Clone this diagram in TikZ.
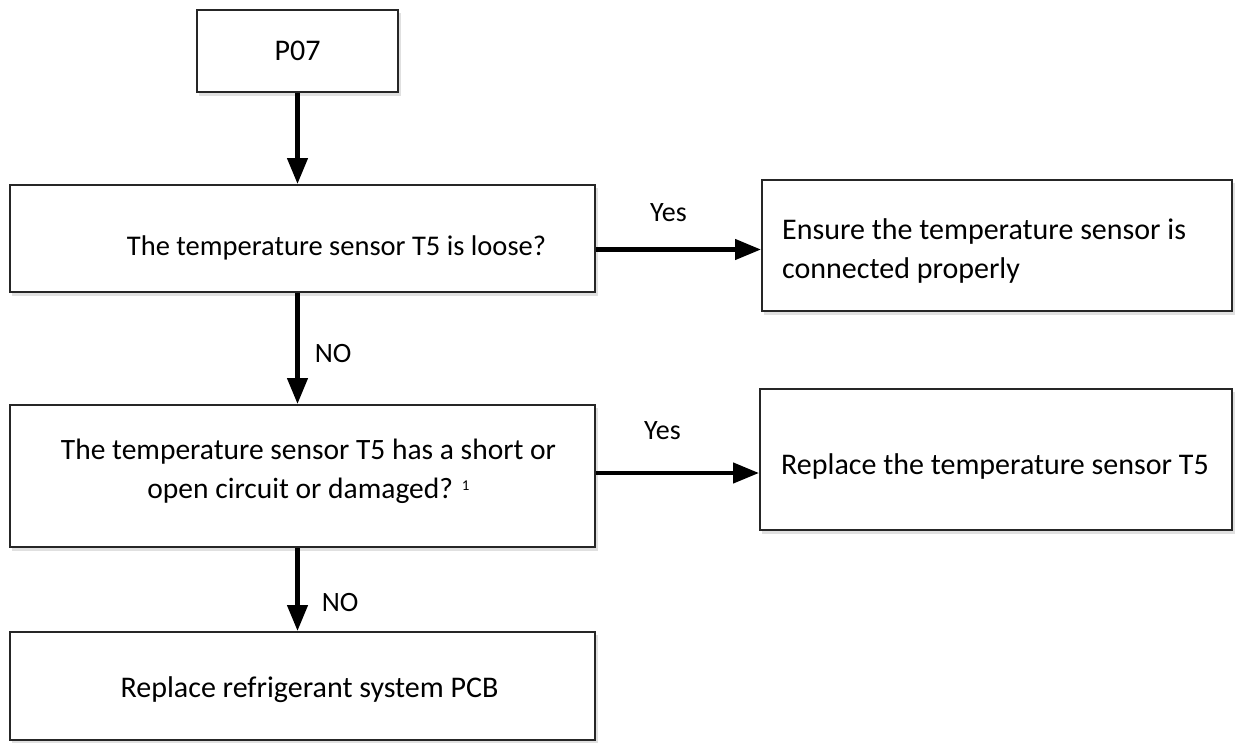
\documentclass[tikz,border=0pt]{standalone}
\usepackage{fontspec}
\setmainfont{Carlito}
\usetikzlibrary{arrows.meta,calc}
\begin{document}
\begin{tikzpicture}[x=1pt,y=-1pt,
  box/.style={draw=black!85,line width=2pt,fill=white,inner sep=0pt},
  flow/.style={line width=4.5pt,-{Triangle[length=26pt,width=20pt]}},
  lbl/.style={font=\fontsize{28}{32}\selectfont,inner sep=0pt},
  txt/.style={font=\fontsize{30}{39}\selectfont,inner sep=0pt}]
\useasboundingbox (0,0) rectangle (1237,742);
% shadows
\foreach \a/\b/\c/\d in {197/10/398/92,10/185/595/292,762/180/1232/311,10/405/595/547,760/389/1232/530,10/632/595/740}{
  \fill[black!12] (\a+2,\b+3) rectangle (\c+3,\d+4);
}
\node[box,minimum width=201pt,minimum height=82pt] (p07) at (297.5,51) {};
\node[txt] at (p07.center) {P07};
\node[box,minimum width=585pt,minimum height=107pt] (q1) at (302.5,238.5) {};
\node[txt,font=\fontsize{28.5}{39}\selectfont] at ($(q1.center)+(34,9)$) {The temperature sensor T5 is loose?};
\node[box,minimum width=470pt,minimum height=131pt] (r1) at (997,245.5) {};
\node[txt,anchor=west,align=left] at ($(r1.west)+(21,5)$) {Ensure the temperature sensor is\\connected properly};
\node[box,minimum width=585pt,minimum height=142pt] (q2) at (302.5,476) {};
\node[txt,align=center,font=\fontsize{29.5}{39}\selectfont] at ($(q2.center)+(6,-5)$) {The temperature sensor T5 has a short or\\open circuit or damaged? {\fontsize{15}{15}\selectfont\raisebox{8pt}{1}}};
\node[box,minimum width=472pt,minimum height=141pt] (r2) at (996,459.5) {};
\node[txt,anchor=west] at ($(r2.west)+(22,7)$) {Replace the temperature sensor T5};
\node[box,minimum width=585pt,minimum height=108pt] (q3) at (302.5,686) {};
\node[txt] at ($(q3.center)+(7,4)$) {Replace refrigerant system PCB};
% connectors
\draw[flow] (p07.south) -- (p07.south |- q1.north);
\draw[flow] (q1.south -| p07.south) -- (q2.north -| p07.south) node[lbl,midway,right=15pt,yshift=-5pt] {NO};
\draw[flow] (q2.south -| p07.south) -- (q3.north -| p07.south) node[lbl,midway,right=22pt,yshift=-13pt] {NO};
\coordinate (y1) at ($(q1.east)+(0,11)$);
\draw[flow] (y1) -- (y1 -| r1.west) node[lbl,midway,above=26pt,xshift=-10pt] {Yes};
\coordinate (y2) at ($(q2.east)+(0,-3)$);
\draw[flow] (y2) -- (y2 -| r2.west) node[lbl,midway,above=31pt,xshift=-15pt] {Yes};
\end{tikzpicture}
\end{document}
